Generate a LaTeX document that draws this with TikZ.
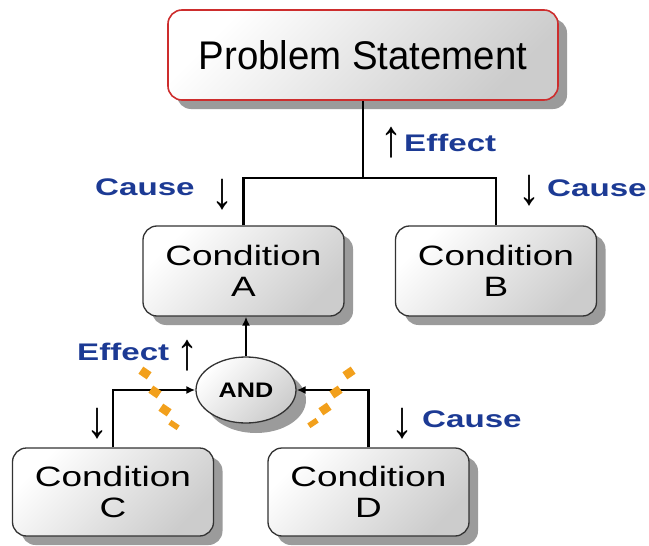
\documentclass[tikz,border=0pt]{standalone}
\usepackage{fontspec}
\setmainfont{Liberation Sans}
\usetikzlibrary{shadows,arrows.meta,shapes.geometric}
\definecolor{lblue}{RGB}{28,58,148}
\definecolor{psred}{RGB}{205,45,45}
\definecolor{dashor}{RGB}{242,160,28}
\definecolor{shad}{RGB}{155,155,155}
\newcommand{\lbltxt}[1]{\fontsize{24}{28}\selectfont\bfseries\scalebox{1.38}[1]{#1}}
\newcommand{\arr}[1]{\fontsize{40}{40}\selectfont\scalebox{1.1}[1.3]{#1}}
\newcommand{\condtxt}[1]{\scalebox{1.32}[1]{Condition}\\\scalebox{1.32}[1]{#1}}
\tikzset{
  box/.style={draw=black!80, line width=1.3pt, rounded corners=14pt,
    shading=axis, top color=white, bottom color=black!20, shading angle=45,
    drop shadow={shadow xshift=9pt, shadow yshift=-9pt, fill=shad, opacity=1},
    inner sep=0pt, align=center, minimum width=201pt, minimum height=90pt,
    font=\fontsize{28}{31}\selectfont},
  psbox/.style={box, draw=psred, line width=1.6pt, minimum width=390pt, minimum height=90pt,
    font=\fontsize{40}{46}\selectfont},
  andnode/.style={ellipse, draw=black!80, line width=1.3pt,
    shading=axis, top color=white, bottom color=black!20, shading angle=45,
    drop shadow={shadow xshift=10pt, shadow yshift=-10pt, fill=shad, opacity=1},
    inner sep=0pt, minimum width=100pt, minimum height=66pt},
  conn/.style={line width=2.8pt, black},
  connarr/.style={conn, -{Latex[length=9pt,width=8pt]}},
  lbl/.style={text=lblue, inner sep=0pt, anchor=base west},
  arrlbl/.style={inner sep=0pt, text=black},
  orangemark/.style={fill=dashor}
}
\begin{document}
\begin{tikzpicture}[x=1pt,y=1pt]
\useasboundingbox (0,0) rectangle (649,-546);
% nodes
\node[psbox] (PS) at (363,-55) {\scalebox{0.96}[1]{Problem Statement}};
\node[box] (A) at (243.5,-271) {\condtxt{A}};
\node[box] (B) at (496,-271) {\condtxt{B}};
\node[box, minimum height=88pt] (C) at (113,-492) {\condtxt{C}};
\node[box, minimum height=88pt] (D) at (368.5,-492) {\condtxt{D}};
\node[andnode] (AND) at (246,-390) {\fontsize{21}{24}\selectfont\bfseries\scalebox{1.2}[1]{AND}};
% connectors
\coordinate (j) at (363,-178);
\draw[conn] (PS.south) -- (j);
\draw[conn] (A.north) |- (j) -| (B.north);
\draw[connarr] (AND.north) -- (AND.north |- A.south);
\draw[connarr] (C.north) |- (AND.west);
\draw[connarr] (D.north) |- (AND.east);
% labels
\node[arrlbl] (a1) at (391,-143) {\arr{↑}};
\node[lbl] (l1) at (404,-151) {\lbltxt{Effect}};
\node[lbl] (l2) at (95,-195) {\lbltxt{Cause}};
\node[arrlbl] (a2) at (222,-195) {\arr{↓}};
\node[arrlbl] (a3) at (529,-191) {\arr{↓}};
\node[lbl] (l3) at (547,-196) {\lbltxt{Cause}};
\node[lbl] (l4) at (77,-360) {\lbltxt{Effect}};
\node[arrlbl] (a4) at (187,-356) {\arr{↑}};
\node[arrlbl] (a5) at (97,-424) {\arr{↓}};
\node[arrlbl] (a6) at (402,-424) {\arr{↓}};
\node[lbl] (l5) at (422,-427) {\lbltxt{Cause}};
% orange marks
\foreach \x/\y/\h in {145/373/4.3,155/392/4.3,165/410/4.3,174/425/2.8}
  \fill[orangemark, shift={(\x,-\y)}, rotate=-34] (-5,-\h) rectangle (5,\h);
\foreach \x/\y/\h in {349/373/4.3,336/392/4.3,325/409/4.3,313/423/2.8}
  \fill[orangemark, shift={(\x,-\y)}, rotate=34] (-5,-\h) rectangle (5,\h);
\end{tikzpicture}
\end{document}
